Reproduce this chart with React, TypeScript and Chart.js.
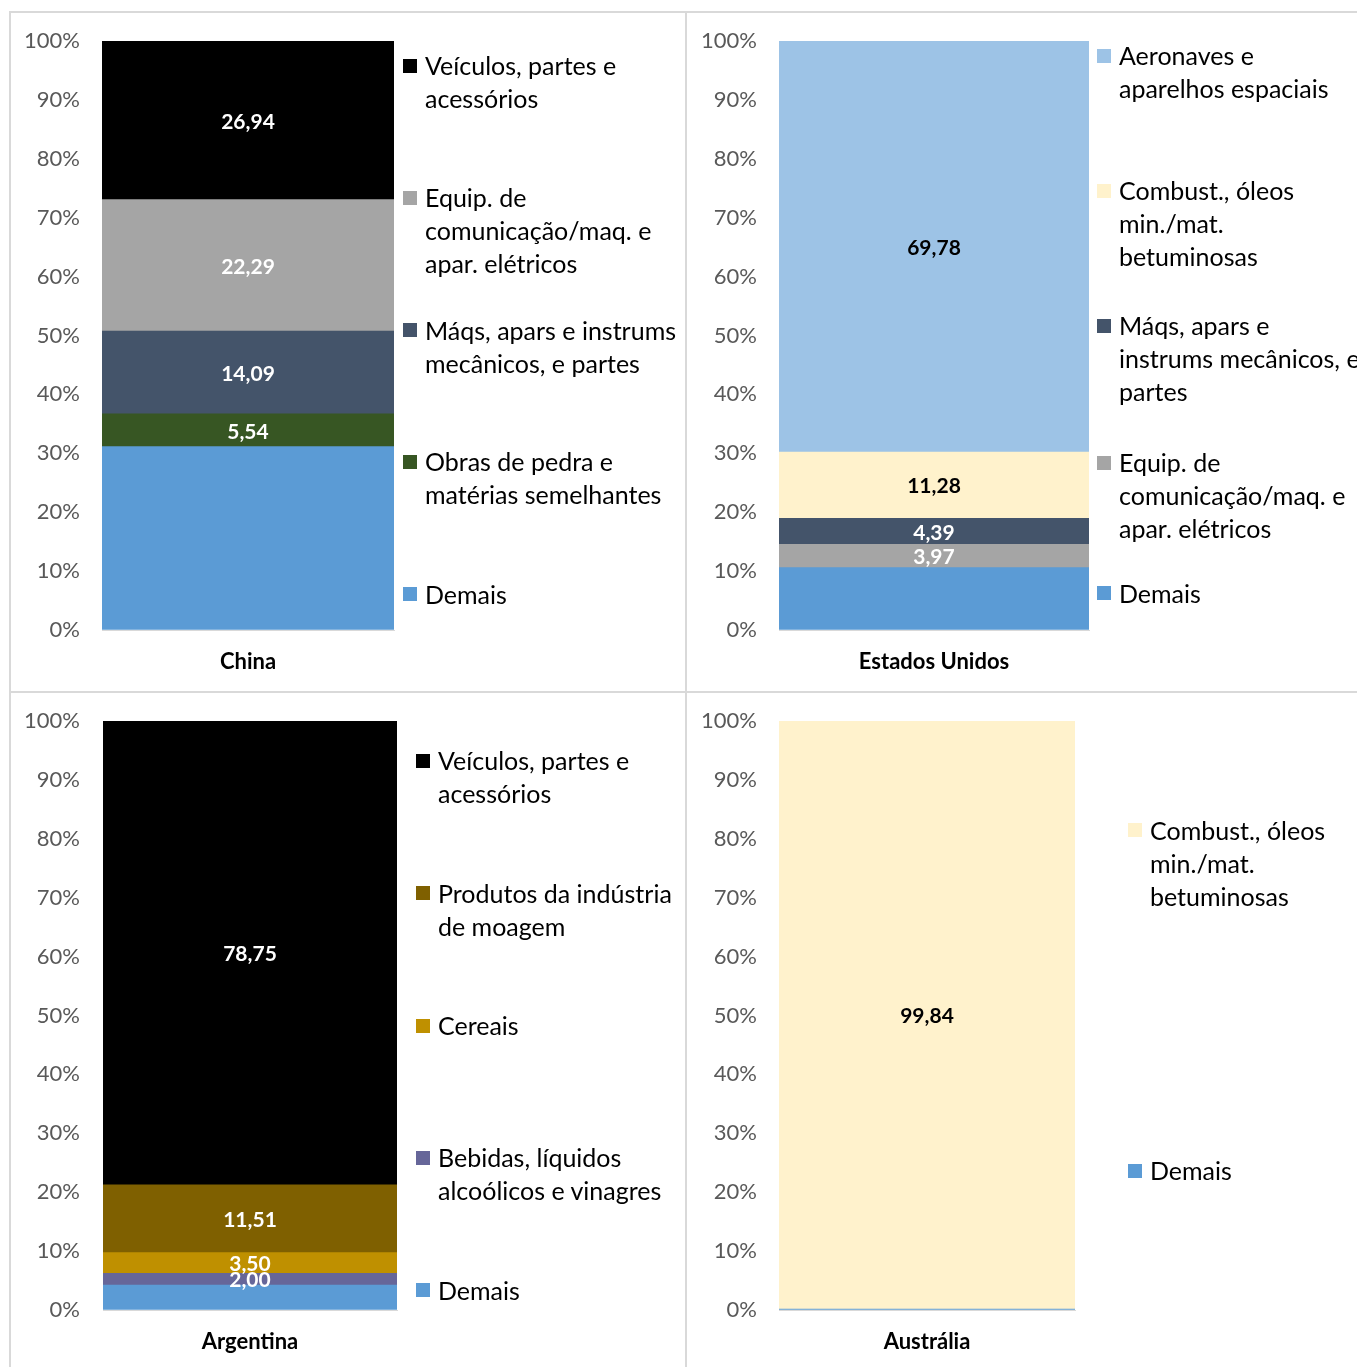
import React, { useEffect, useRef } from 'react';
import { Chart, registerables } from 'chart.js';

Chart.register(...registerables);

const FONT = "Lato, 'Open Sans', sans-serif";

// ---------- DATA ----------
const CATEGORIES = ['China', 'Estados Unidos', 'Argentina', 'Austrália'];

// series listed bottom of stack -> top of stack
const CHINA_SERIES = [
  'Demais',
  'Obras de pedra e\nmatérias semelhantes',
  'Máqs, apars e instrums\nmecânicos, e partes',
  'Equip. de\ncomunicação/maq. e\napar. elétricos',
  'Veículos, partes e\nacessórios',
];
const CHINA_VALUES = [31.14, 5.54, 14.09, 22.29, 26.94];

const EUA_SERIES = [
  'Demais',
  'Equip. de\ncomunicação/maq. e\napar. elétricos',
  'Máqs, apars e\ninstrums mecânicos, e\npartes',
  'Combust., óleos\nmin./mat.\nbetuminosas',
  'Aeronaves e\naparelhos espaciais',
];
const EUA_VALUES = [10.58, 3.97, 4.39, 11.28, 69.78];

const ARG_SERIES = [
  'Demais',
  'Bebidas, líquidos\nalcoólicos e vinagres',
  'Cereais',
  'Produtos da indústria\nde moagem',
  'Veículos, partes e\nacessórios',
];
const ARG_VALUES = [4.24, 2.0, 3.5, 11.51, 78.75];

const AUS_SERIES = ['Demais', 'Combust., óleos\nmin./mat.\nbetuminosas'];
const AUS_VALUES = [0.16, 99.84];

const Y_MIN = 0;
const Y_MAX = 100;
const Y_STEP = 10;

// ---------- STYLES ----------
const C_DEMAIS = '#5b9bd5';
const C_OBRAS = '#375623';
const C_MAQS = '#44546a';
const C_EQUIP = '#a5a5a5';
const C_VEIC = '#000000';
const C_AERO = '#9dc3e6';
const C_COMB = '#fff2cc';
const C_BEB = '#666699';
const C_CER = '#bf9000';
const C_PROD = '#7f6000';

const CHINA_COLORS = [C_DEMAIS, C_OBRAS, C_MAQS, C_EQUIP, C_VEIC];
const CHINA_LABEL_COLORS = [null, '#ffffff', '#ffffff', '#ffffff', '#ffffff'];
const EUA_COLORS = [C_DEMAIS, C_EQUIP, C_MAQS, C_COMB, C_AERO];
const EUA_LABEL_COLORS = [null, '#ffffff', '#ffffff', '#000000', '#000000'];
const ARG_COLORS = [C_DEMAIS, C_BEB, C_CER, C_PROD, C_VEIC];
const ARG_LABEL_COLORS = [null, '#ffffff', '#ffffff', '#ffffff', '#ffffff'];
const AUS_COLORS = [C_DEMAIS, C_COMB];
const AUS_LABEL_COLORS = [null, '#000000'];

type PanelDef = {
  category: string;
  series: string[];
  values: number[];
  colors: string[];
  labelColors: (string | null)[];
  canvas: { left: number; top: number; width: number; height: number };
  area: { left: number; right: number; top: number; bottom: number };
  tickRight: number;
  legendMarkerX: number;
  legendY: number[]; // top-to-bottom legend order, first line centres
};

const PANELS: PanelDef[] = [
  {
    category: CATEGORIES[0],
    series: CHINA_SERIES,
    values: CHINA_VALUES,
    colors: CHINA_COLORS,
    labelColors: CHINA_LABEL_COLORS,
    canvas: { left: 11, top: 13, width: 674, height: 678 },
    area: { left: 102, right: 394, top: 41, bottom: 630 },
    tickRight: 80,
    legendMarkerX: 403,
    legendY: [65.5, 197.5, 330, 461.5, 594],
  },
  {
    category: CATEGORIES[1],
    series: EUA_SERIES,
    values: EUA_VALUES,
    colors: EUA_COLORS,
    labelColors: EUA_LABEL_COLORS,
    canvas: { left: 687, top: 13, width: 670, height: 678 },
    area: { left: 779, right: 1089, top: 41, bottom: 630 },
    tickRight: 757,
    legendMarkerX: 1097,
    legendY: [55.5, 190.5, 325.5, 462.5, 593],
  },
  {
    category: CATEGORIES[2],
    series: ARG_SERIES,
    values: ARG_VALUES,
    colors: ARG_COLORS,
    labelColors: ARG_LABEL_COLORS,
    canvas: { left: 11, top: 693, width: 674, height: 674 },
    area: { left: 103, right: 397, top: 721, bottom: 1310 },
    tickRight: 80,
    legendMarkerX: 416,
    legendY: [760.5, 893, 1025.5, 1157.5, 1290],
  },
  {
    category: CATEGORIES[3],
    series: AUS_SERIES,
    values: AUS_VALUES,
    colors: AUS_COLORS,
    labelColors: AUS_LABEL_COLORS,
    canvas: { left: 687, top: 693, width: 670, height: 674 },
    area: { left: 779, right: 1075, top: 721, bottom: 1310 },
    tickRight: 757,
    legendMarkerX: 1128,
    legendY: [830, 1170.5],
  },
];

const fmt = (v: number) => v.toFixed(2).replace('.', ',');

const valueLabels = {
  id: 'valueLabels',
  afterDatasetsDraw(chart: any) {
    const ctx = chart.ctx;
    chart.data.datasets.forEach((ds: any, i: number) => {
      if (!ds.labelColor) return;
      const meta = chart.getDatasetMeta(i);
      meta.data.forEach((bar: any, j: number) => {
        const v = ds.data[j];
        const { x, y, base } = bar.getProps(['x', 'y', 'base'], true);
        ctx.save();
        ctx.font = `bold 21px ${FONT}`;
        ctx.fillStyle = ds.labelColor;
        ctx.textAlign = 'center';
        ctx.textBaseline = 'middle';
        ctx.fillText(fmt(v), x, (y + base) / 2 + 1.5);
        ctx.restore();
      });
    });
  },
};

function Panel({ def }: { def: PanelDef }) {
  const ref = useRef<HTMLCanvasElement>(null);
  useEffect(() => {
    if (!ref.current) return;
    const cv = def.canvas;
    const aLeft = def.area.left - cv.left;
    const aRight = def.area.right - cv.left;
    const aTop = def.area.top - cv.top;
    const aBottom = def.area.bottom - cv.top;
    const chart = new Chart(ref.current, {
      type: 'bar',
      data: {
        labels: [def.category],
        datasets: def.series.map((s, i) => ({
          label: s,
          data: [def.values[i]],
          backgroundColor: def.colors[i],
          borderWidth: 0,
          barPercentage: 1,
          categoryPercentage: 1,
          labelColor: def.labelColors[i],
        })) as any,
      },
      options: {
        animation: false,
        responsive: false,
        maintainAspectRatio: false,
        devicePixelRatio: 1,
        layout: {
          padding: { left: 0, top: aTop, right: cv.width - aRight, bottom: 0 },
        },
        plugins: {
          legend: { display: false },
          tooltip: { enabled: false },
        },
        scales: {
          x: {
            stacked: true,
            grid: { display: false, drawTicks: false },
            border: { display: true, color: '#d9d9d9', width: 1 },
            ticks: {
              color: '#000000',
              font: { family: FONT, size: 22, weight: 'bold' },
              padding: 19,
            },
            afterFit: (s: any) => {
              s.height = cv.height - aBottom;
              s.paddingLeft = 0;
              s.paddingRight = 0;
            },
          },
          y: {
            stacked: true,
            min: Y_MIN,
            max: Y_MAX,
            grid: { color: '#d9d9d9', drawTicks: false },
            border: { display: false },
            ticks: {
              stepSize: Y_STEP,
              color: '#595959',
              font: { family: FONT, size: 22 },
              padding: aLeft - (def.tickRight - cv.left),
              callback: (v: any) => `${v}%`,
            },
            afterFit: (s: any) => {
              s.width = aLeft;
              s.paddingTop = 0;
              s.paddingBottom = 0;
            },
          },
        },
      } as any,
      plugins: [valueLabels],
    });
    return () => chart.destroy();
  }, [def]);

  const legendItems = def.series
    .map((s, i) => ({ s, c: def.colors[i] }))
    .reverse();

  return (
    <>
      <canvas
        ref={ref}
        width={def.canvas.width}
        height={def.canvas.height}
        style={{
          position: 'absolute',
          left: def.canvas.left,
          top: def.canvas.top,
          width: def.canvas.width,
          height: def.canvas.height,
        }}
      />
      {legendItems.map((it, k) => (
        <div
          key={k}
          style={{
            position: 'absolute',
            left: def.legendMarkerX,
            top: def.legendY[k] - 16.5,
            fontFamily: FONT,
            fontSize: 25,
            lineHeight: '33px',
            color: '#000000',
            whiteSpace: 'pre',
          }}
        >
          <span
            style={{
              position: 'absolute',
              left: 0,
              top: 9.5,
              width: 14,
              height: 14,
              background: it.c,
            }}
          />
          <div style={{ marginLeft: 22 }}>{it.s}</div>
        </div>
      ))}
    </>
  );
}

export default function App() {
  useEffect(() => {
    document.body.style.overflow = 'hidden';
  }, []);
  const line = '#d9d9d9';
  return (
    <div
      style={{
        position: 'absolute',
        left: 0,
        top: 0,
        width: 1357,
        height: 1367,
        overflow: 'hidden',
        background: '#ffffff',
      }}
    >
      <div style={{ position: 'absolute', left: 9, top: 11, width: 1348, height: 2, background: line }} />
      <div style={{ position: 'absolute', left: 9, top: 11, width: 2, height: 1356, background: line }} />
      <div style={{ position: 'absolute', left: 685, top: 11, width: 2, height: 1356, background: line }} />
      <div style={{ position: 'absolute', left: 9, top: 691, width: 1348, height: 2, background: line }} />
      {PANELS.map((p, i) => (
        <Panel key={i} def={p} />
      ))}
    </div>
  );
}
